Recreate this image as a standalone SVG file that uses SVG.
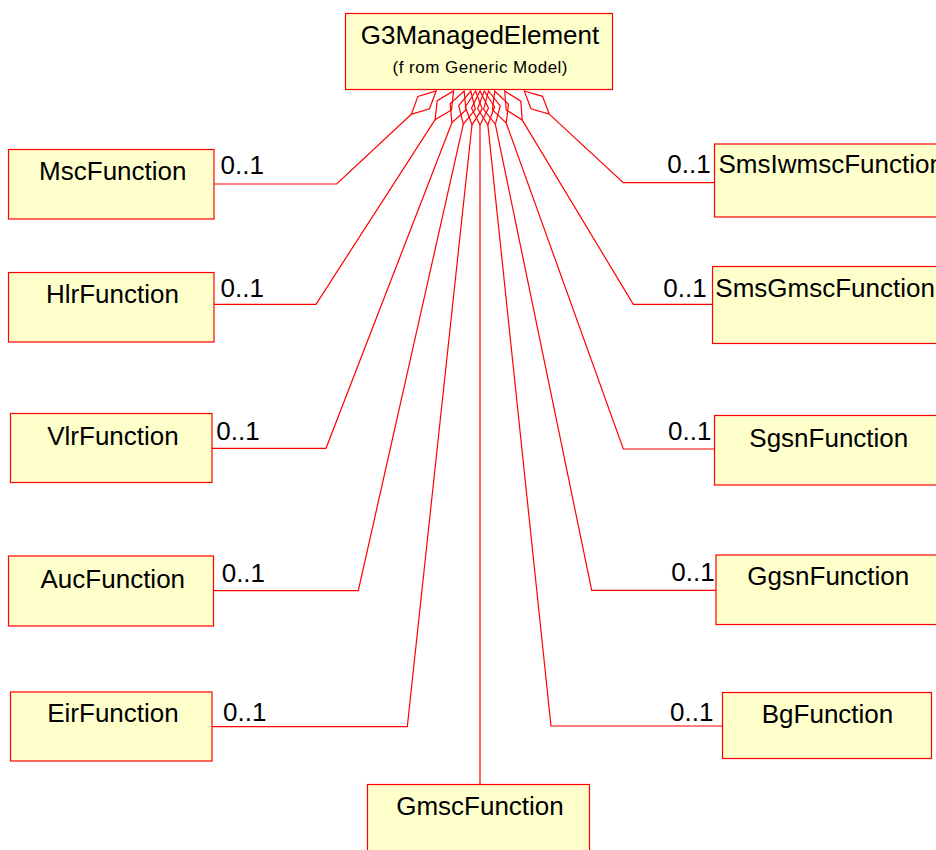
<svg xmlns="http://www.w3.org/2000/svg" xmlns:xlink="http://www.w3.org/1999/xlink" width="936" height="850" viewBox="0 0 936 850">
<style>
.box{fill:#FFFFCC;stroke:#FF0000;stroke-width:1.2}
.lbl{font-family:"Liberation Sans",Arial,sans-serif;font-size:26px;fill:#000}
.mid{text-anchor:middle}
.sub{font-family:"Liberation Sans",Arial,sans-serif;font-size:17px;fill:#000;text-anchor:middle}
.con{fill:none;stroke:#FF0000;stroke-width:1.2}
</style>
<defs>
<polygon id="dia" points="0,0 8.5,17 0,34 -8.5,17" fill="none" stroke="#FF0000" stroke-width="1.2"/>
</defs>
<rect width="936" height="850" fill="#FFFFFF"/>
<g id="connectors">
<use href="#dia" transform="translate(436.15,91) rotate(46.92)"/>
<path class="con" d="M411.32,114.22 L336.7,184 L214,184"/>
<use href="#dia" transform="translate(453.56,91) rotate(32.82)"/>
<path class="con" d="M435.13,119.57 L316,304.3 L214,304.3"/>
<use href="#dia" transform="translate(464.15,91) rotate(21.13)"/>
<path class="con" d="M451.89,122.72 L326,448.3 L212,448.3"/>
<use href="#dia" transform="translate(470.77,91) rotate(12.69)"/>
<path class="con" d="M463.30,124.17 L358.3,590.7 L213.5,590.7"/>
<use href="#dia" transform="translate(475.6,91) rotate(6.13)"/>
<path class="con" d="M471.97,124.81 L407.3,726.7 L212,726.7"/>
<use href="#dia" transform="translate(480,91)"/>
<path class="con" d="M480,125 L480,784.5"/>
<use href="#dia" transform="translate(484.31,91) rotate(-6)"/>
<path class="con" d="M487.86,124.82 L551,726 L722.5,726"/>
<use href="#dia" transform="translate(488.48,91) rotate(-11.68)"/>
<path class="con" d="M495.37,124.3 L591.7,590.3 L716,590.3"/>
<use href="#dia" transform="translate(494.73,91) rotate(-19.75)"/>
<path class="con" d="M506.22,123 L623.3,449 L714.5,449"/>
<use href="#dia" transform="translate(504.72,91) rotate(-31.08)"/>
<path class="con" d="M522.27,120.12 L633.3,304.3 L712.5,304.3"/>
<use href="#dia" transform="translate(524.28,91) rotate(-47.2)"/>
<path class="con" d="M549.23,114.1 L623.3,182.7 L714.5,182.7"/>
<text class="lbl" x="220.5" y="174.3">0..1</text>
<text class="lbl" x="220.5" y="296.7">0..1</text>
<text class="lbl" x="216.3" y="440">0..1</text>
<text class="lbl" x="221.7" y="581.7">0..1</text>
<text class="lbl" x="223" y="720.7">0..1</text>
<text class="lbl" x="667.3" y="173.3">0..1</text>
<text class="lbl" x="663.3" y="296.7">0..1</text>
<text class="lbl" x="668" y="440">0..1</text>
<text class="lbl" x="671.3" y="581">0..1</text>
<text class="lbl" x="670" y="720.7">0..1</text>
</g>
<g id="G3ManagedElement">
<rect class="box" x="345.5" y="13.5" width="267" height="76"/>
<text class="lbl mid" x="480" y="44">G3ManagedElement</text>
<text class="sub" x="480" y="73.3" textLength="175" lengthAdjust="spacing">(f rom Generic Model)</text>
</g>
<g id="MscFunction">
<rect class="box" x="8.5" y="149.5" width="205.5" height="69.5"/>
<text class="lbl mid" x="112.8" y="180">MscFunction</text>
</g>
<g id="HlrFunction">
<rect class="box" x="8.5" y="272.5" width="205.5" height="69.5"/>
<text class="lbl mid" x="112.5" y="302.7">HlrFunction</text>
</g>
<g id="VlrFunction">
<rect class="box" x="10.5" y="413.5" width="201.5" height="69"/>
<text class="lbl mid" x="113" y="445">VlrFunction</text>
</g>
<g id="AucFunction">
<rect class="box" x="8.5" y="556" width="205" height="70"/>
<text class="lbl mid" x="112.8" y="587.7">AucFunction</text>
</g>
<g id="EirFunction">
<rect class="box" x="10.5" y="692" width="201.5" height="69"/>
<text class="lbl mid" x="113" y="722.3">EirFunction</text>
</g>
<g id="GmscFunction">
<rect class="box" x="367.5" y="784.5" width="222" height="80"/>
<text class="lbl mid" x="480" y="815">GmscFunction</text>
</g>
<g id="SmsIwmscFunction">
<rect class="box" x="714.5" y="144" width="240" height="73"/>
<text class="lbl" x="718.5" y="173.3">SmsIwmscFunction</text>
</g>
<g id="SmsGmscFunction">
<rect class="box" x="712.5" y="266.5" width="240" height="77"/>
<text class="lbl" x="715.3" y="296.7">SmsGmscFunction</text>
</g>
<g id="SgsnFunction">
<rect class="box" x="714.5" y="415.5" width="230" height="69.5"/>
<text class="lbl mid" x="828.8" y="446.7">SgsnFunction</text>
</g>
<g id="GgsnFunction">
<rect class="box" x="716" y="555" width="230" height="69.5"/>
<text class="lbl mid" x="828.3" y="585">GgsnFunction</text>
</g>
<g id="BgFunction">
<rect class="box" x="722.5" y="692.5" width="209" height="66"/>
<text class="lbl mid" x="827.5" y="723.3">BgFunction</text>
</g>
</svg>
